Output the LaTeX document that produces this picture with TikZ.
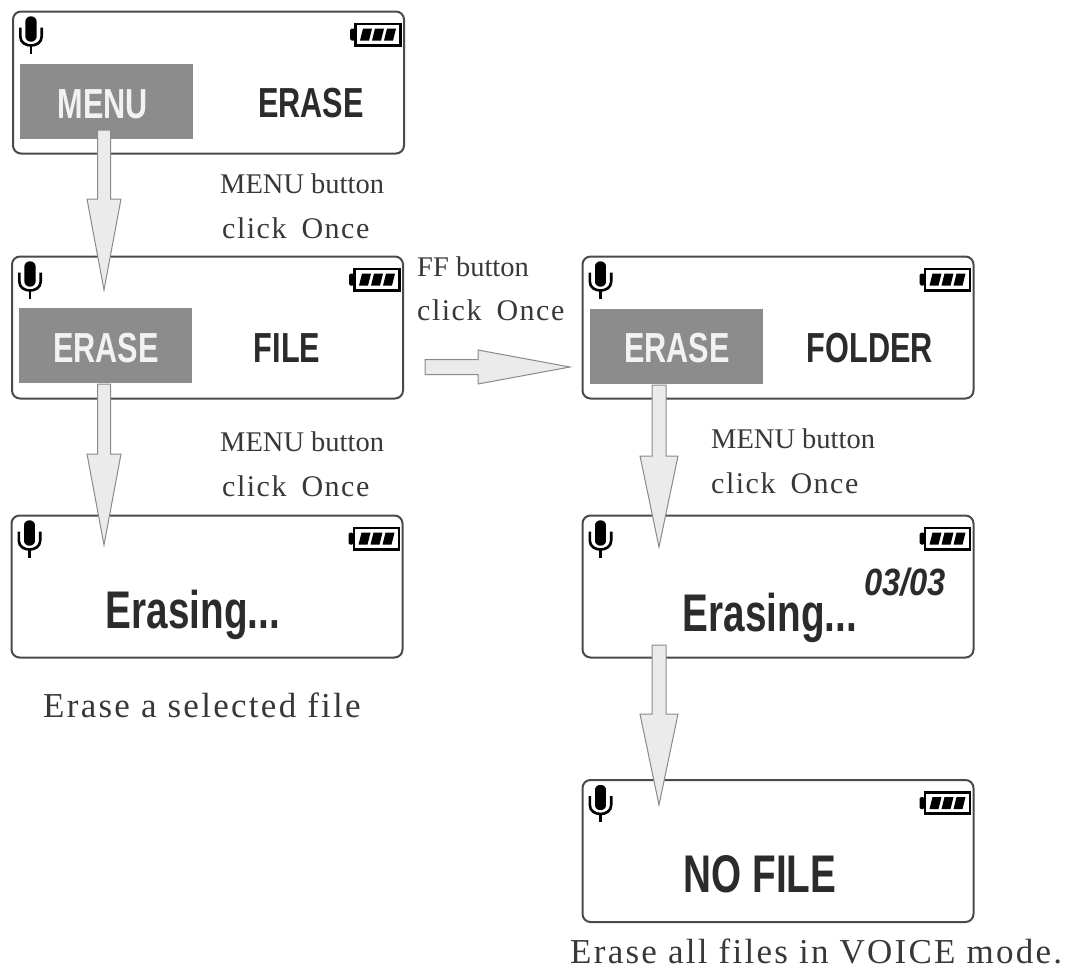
\documentclass[tikz,border=0pt]{standalone}
\usepackage{fontspec}
\setmainfont{Liberation Serif}
\newfontfamily\lcdfont{Liberation Sans}[FakeStretch=0.73]
\newfontfamily\digfont{Liberation Sans}[FakeStretch=0.86]
\usetikzlibrary{calc}
\definecolor{lcdline}{HTML}{4A4A4A}
\definecolor{lcdtext}{HTML}{2B2B2B}
\definecolor{hlfill}{HTML}{8C8C8C}
\definecolor{hltext}{HTML}{F2F2F2}
\definecolor{arrfill}{HTML}{EBEBEB}
\definecolor{arrline}{HTML}{8A8A8A}
\definecolor{labtext}{HTML}{383838}
\tikzset{
  lcd/.style={draw=lcdline, line width=2pt, rounded corners=8pt, minimum width=391pt, minimum height=142pt, inner sep=0pt},
  hl/.style={fill=hlfill, minimum width=173pt, minimum height=75pt, inner sep=0pt, anchor=north west},
  big/.style={font=\lcdfont\bfseries\fontsize{42}{42}\selectfont, text=lcdtext, inner sep=0pt, anchor=base},
  bighl/.style={big, text=hltext},
  huge/.style={font=\lcdfont\bfseries\fontsize{53}{53}\selectfont, text=lcdtext, inner sep=0pt, anchor=base},
  dig/.style={font=\digfont\bfseries\itshape\fontsize{38}{38}\selectfont, text=lcdtext, inner sep=0pt, anchor=base},
  labA/.style={font=\fontsize{28.5}{30}\selectfont, text=labtext, inner sep=0pt, anchor=base west},
  labB/.style={font=\addfontfeature{LetterSpace=5}\fontsize{30}{32}\selectfont, text=labtext, inner sep=0pt, anchor=base west},
  labC/.style={font=\addfontfeature{LetterSpace=6.5}\fontsize{35}{37}\selectfont, text=labtext, inner sep=0pt, anchor=base west},
  blockarr/.style={fill=arrfill, draw=arrline, line width=1pt, line join=miter},
  mic/.pic={
    \draw[black, line width=2.6pt] (1.3,13) -- (1.3,22) .. controls (1.3,34) and (22.7,34) .. (22.7,22) -- (22.7,13);
    \draw[black, line width=2.8pt] (12,31) -- (12,39);
    \filldraw[fill=black, draw=white, line width=1.6pt, rounded corners=6pt] (5.5,1) rectangle (18.5,28);
  },
  battery/.pic={
    \fill[black, rounded corners=1.5pt] (0,6) rectangle (5,18);
    \draw[black, line width=2.8pt] (5.5,1.4) rectangle (50.5,22.6);
    \foreach \i in {0,1,2} \fill[black] ({13+12*\i},6) -- ({22+12*\i},6) -- ({19+12*\i},18) -- ({10+12*\i},18) -- cycle;
  }
}
\newcommand\blockdown[4]{%
  \filldraw[blockarr] ($(#1)+(-#3,0)$) -- ($(#2)+(-#3,-91)$) -- ($(#2)+(-#4,-91)$) -- (#2) -- ($(#2)+(#4,-91)$) -- ($(#2)+(#3,-91)$) -- ($(#1)+(#3,0)$) -- cycle;}
\begin{document}
\begin{tikzpicture}[x=1pt, y=-1pt]
\useasboundingbox (0,0) rectangle (1073,970);

% boxes
\node[lcd] (b1) at (208.5,82.5) {};
\node[lcd] (b2) at (207.5,327.5) {};
\node[lcd] (b3) at (207,586.5) {};
\node[lcd] (b4) at (778,327.5) {};
\node[lcd] (b5) at (778,586.5) {};
\node[lcd] (b6) at (778,851) {};

% highlights
\node[hl] (h1) at (20,64) {};
\node[hl] (h2) at (19,308) {};
\node[hl] (h4) at (590,309) {};

% icons
\foreach \b in {b1,b2,b3,b4,b5,b6} {
  \pic at ($(\b.north west)+(7,4)$) {mic};
  \pic at ($(\b.north east)+(-55,12)$) {battery};
}

% display texts
\node[bighl] (t1a) at (103,118) {MENU};
\node[big] (t1b) at (311,117) {ERASE};
\node[bighl] (t2a) at (106,362) {ERASE};
\node[big] (t2b) at (287,362) {FILE};
\node[bighl] (t4a) at (677,362) {ERASE};
\node[big] (t4b) at (870,362) {FOLDER};
\node[huge] (t3) at (193,628) {Erasing...};
\node[huge] (t5) at (770,631) {Erasing...};
\node[dig] (t5n) at (905,595) {03/03};
\node[huge] (t6) at (760,892) {NO FILE};

% labels
\node[labA] (l1a) at (220,193) {MENU button};
\node[labB] (l1b) at (222,238) {click\hspace{0.5em}Once};
\node[labA] (l2a) at (220,451) {MENU button};
\node[labB] (l2b) at (222,496) {click\hspace{0.5em}Once};
\node[labA] (l3a) at (417,276) {FF button};
\node[labB] (l3b) at (417,320) {click\hspace{0.5em}Once};
\node[labA] (l4a) at (711,448) {MENU button};
\node[labB] (l4b) at (711,493) {click\hspace{0.5em}Once};
\node[labC] (c1) at (43,717) {Erase a selected file};
\node[labC] (c2) at (570,963) {Erase all files in VOICE mode.};

% arrows
\coordinate (a1s) at (104,130);
\coordinate (a1t) at (104,290);
\coordinate (a2s) at (104,384);
\coordinate (a2t) at (104,545);
\coordinate (a3s) at (659,385);
\coordinate (a3t) at (659,547);
\coordinate (a4s) at (659,645);
\coordinate (a4t) at (659,805);
\blockdown{a1s}{a1t}{6.5}{17}
\blockdown{a2s}{a2t}{6.5}{17}
\blockdown{a3s}{a3t}{7}{19}
\blockdown{a4s}{a4t}{7}{19}
\coordinate (hs) at (425,367);
\coordinate (ht) at (570,367);
\filldraw[blockarr] ($(hs)+(0,-7.5)$) -- ($(ht)+(-92,-7.5)$) -- ($(ht)+(-92,-17)$) -- (ht) -- ($(ht)+(-92,17)$) -- ($(ht)+(-92,7.5)$) -- ($(hs)+(0,7.5)$) -- cycle;
\end{tikzpicture}
\end{document}
